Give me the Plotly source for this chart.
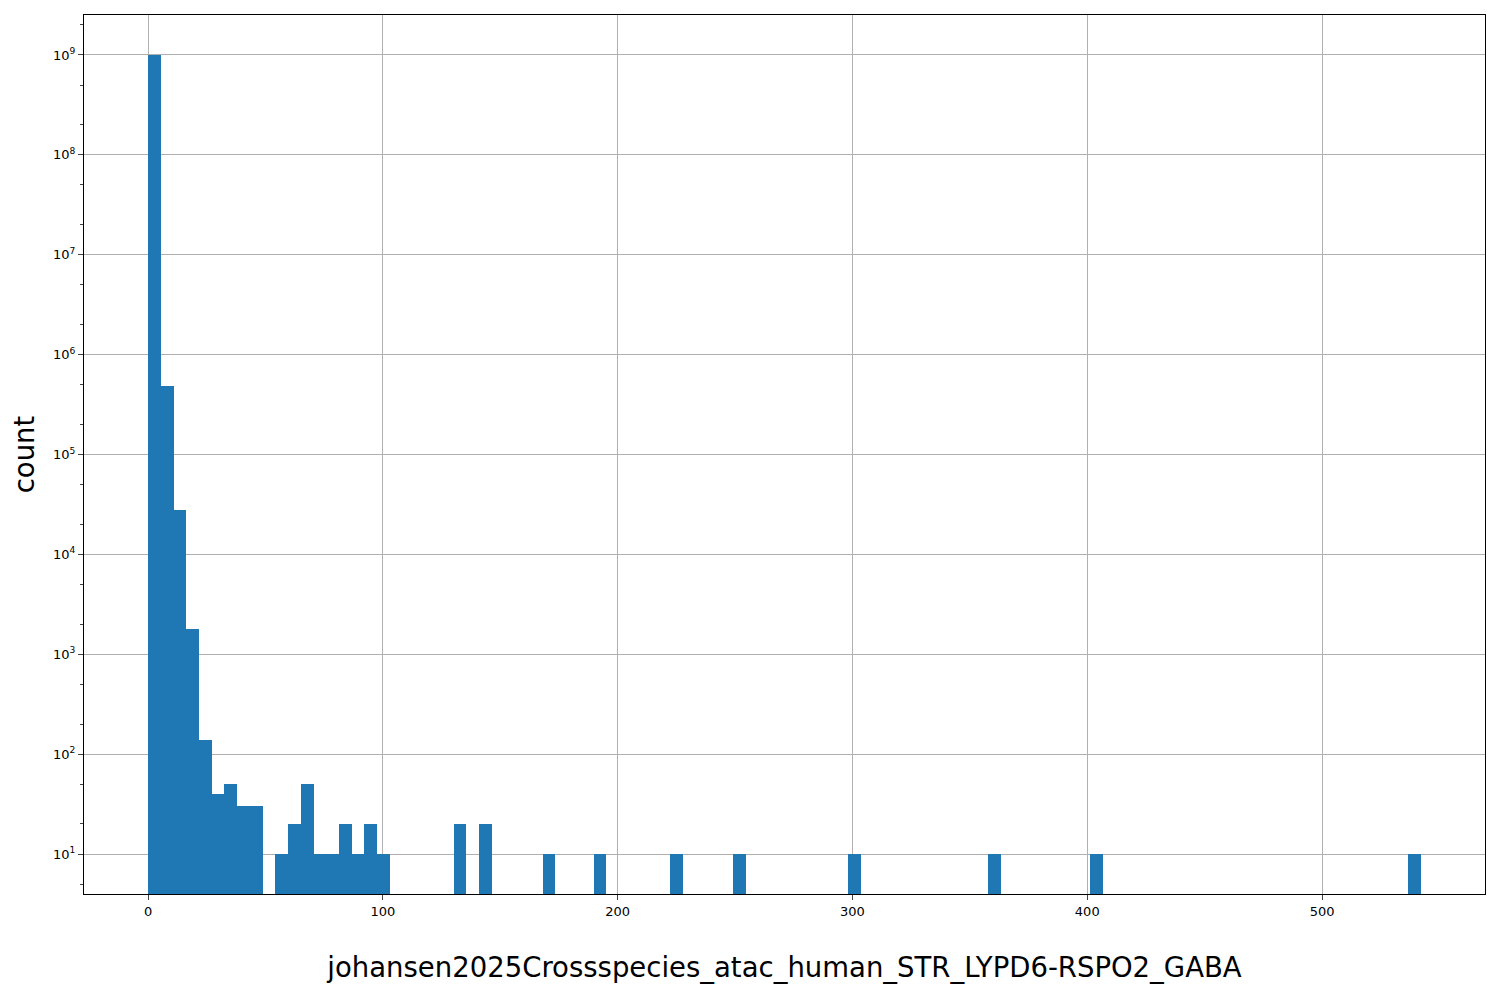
import numpy as np
import plotly.graph_objects as go

bin_lo, bin_hi, n_bins = 0.0, 542.0, 100
bin_index = [0, 1, 2, 3, 4, 5, 6, 7, 8, 10, 11, 12, 13, 14, 15, 16, 17, 18,
             24, 26, 31, 35, 41, 46, 55, 66, 74, 99]
counts = [1e9, 4.8e5, 2.8e4, 1.8e3, 140, 40, 50, 30, 30, 10, 20, 50, 10, 10, 20, 10, 20, 10,
          20, 20, 10, 10, 10, 10, 10, 10, 10, 10]
y_tick_vals = [1e1, 1e2, 1e3, 1e4, 1e5, 1e6, 1e7, 1e8, 1e9]
y_tick_text = ["10<sup>%d</sup>" % k for k in range(1, 10)]

w = (bin_hi - bin_lo) / n_bins
centers = [bin_lo + (i + 0.5) * w for i in bin_index]

fig = go.Figure(go.Bar(x=centers, y=counts, width=w, marker=dict(color="#1f77b4", line=dict(width=0))))
fig.update_layout(
    width=1500, height=1000, plot_bgcolor="white", paper_bgcolor="white",
    margin=dict(l=76, r=23, t=7, b=114), showlegend=False, bargap=0,
    font=dict(family="DejaVu Sans", color="black"),
)
fig.update_xaxes(range=[-27.3, 569.4], tick0=0, dtick=100, showgrid=True, gridcolor="#b0b0b0",
                 showline=True, linecolor="black", mirror=True, ticks="outside", ticklen=5,
                 tickfont=dict(size=13), zeroline=False,
                 title=dict(text="johansen2025Crossspecies_atac_human_STR_LYPD6-RSPO2_GABA",
                            font=dict(size=27.5), standoff=40))
fig.update_yaxes(type="log", range=[0.6, 9.4], tickvals=y_tick_vals, ticktext=y_tick_text, showgrid=True,
                 gridcolor="#b0b0b0", showline=True, linecolor="black", mirror=True, ticks="outside",
                 ticklen=5, tickfont=dict(size=13), zeroline=False,
                 minor=dict(ticks="outside", ticklen=3, showgrid=False),
                 title=dict(text="count", font=dict(size=27.5), standoff=18))
fig.write_html("out.html")
